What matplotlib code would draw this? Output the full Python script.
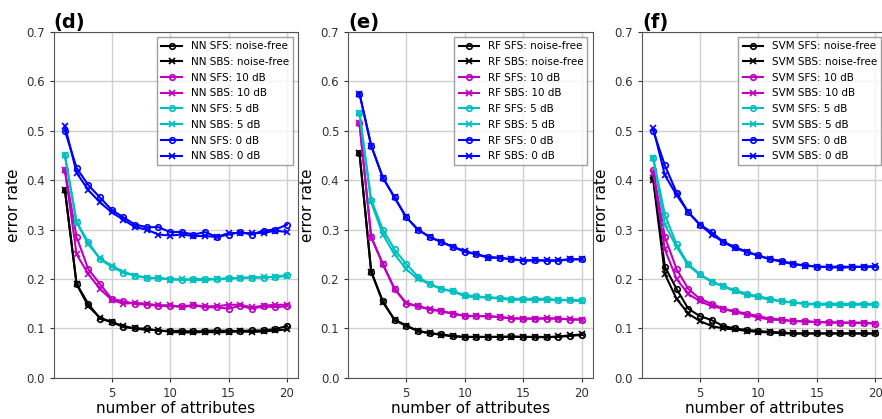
import numpy as np
import matplotlib.pyplot as plt

# number of attributes
n_attr = list(range(1, 21))

# (d) NN
nn_sfs_clean = [0.38, 0.19, 0.15, 0.12, 0.113, 0.103, 0.10, 0.10, 0.095, 0.095, 0.095, 0.094, 0.095, 0.096, 0.095, 0.095, 0.096, 0.096, 0.099, 0.105]
nn_sbs_clean = [0.38, 0.19, 0.145, 0.122, 0.113, 0.105, 0.10, 0.097, 0.097, 0.093, 0.092, 0.092, 0.093, 0.092, 0.093, 0.094, 0.093, 0.094, 0.096, 0.098]
nn_sfs_10 = [0.42, 0.285, 0.22, 0.19, 0.16, 0.155, 0.15, 0.148, 0.146, 0.145, 0.145, 0.147, 0.143, 0.143, 0.14, 0.146, 0.14, 0.145, 0.143, 0.145]
nn_sbs_10 = [0.42, 0.25, 0.21, 0.18, 0.158, 0.15, 0.152, 0.15, 0.147, 0.147, 0.143, 0.147, 0.145, 0.145, 0.148, 0.148, 0.143, 0.146, 0.148, 0.148]
nn_sfs_5 = [0.45, 0.315, 0.275, 0.24, 0.225, 0.213, 0.207, 0.203, 0.202, 0.20, 0.198, 0.20, 0.20, 0.20, 0.202, 0.202, 0.203, 0.203, 0.205, 0.208]
nn_sbs_5 = [0.45, 0.315, 0.27, 0.242, 0.227, 0.215, 0.207, 0.202, 0.202, 0.199, 0.20, 0.198, 0.198, 0.20, 0.20, 0.203, 0.203, 0.204, 0.204, 0.206]
nn_sfs_0 = [0.50, 0.425, 0.39, 0.365, 0.34, 0.325, 0.31, 0.305, 0.305, 0.295, 0.295, 0.29, 0.295, 0.285, 0.29, 0.295, 0.29, 0.298, 0.30, 0.31]
nn_sbs_0 = [0.51, 0.415, 0.38, 0.355, 0.335, 0.32, 0.305, 0.30, 0.29, 0.288, 0.29, 0.287, 0.287, 0.285, 0.293, 0.293, 0.293, 0.293, 0.298, 0.295]

# (e) RF
rf_sfs_clean = [0.455, 0.215, 0.155, 0.117, 0.105, 0.095, 0.09, 0.088, 0.085, 0.083, 0.083, 0.083, 0.083, 0.084, 0.083, 0.083, 0.083, 0.083, 0.085, 0.087]
rf_sbs_clean = [0.455, 0.215, 0.153, 0.118, 0.106, 0.095, 0.091, 0.087, 0.084, 0.083, 0.083, 0.083, 0.083, 0.083, 0.083, 0.083, 0.082, 0.084, 0.086, 0.088]
rf_sfs_10 = [0.515, 0.285, 0.23, 0.18, 0.15, 0.145, 0.138, 0.135, 0.13, 0.125, 0.125, 0.125, 0.123, 0.12, 0.12, 0.12, 0.12, 0.12, 0.118, 0.118]
rf_sbs_10 = [0.515, 0.285, 0.23, 0.18, 0.152, 0.145, 0.14, 0.135, 0.13, 0.126, 0.125, 0.125, 0.123, 0.121, 0.12, 0.12, 0.121, 0.12, 0.119, 0.118]
rf_sfs_5 = [0.535, 0.36, 0.30, 0.26, 0.23, 0.205, 0.19, 0.18, 0.175, 0.168, 0.165, 0.163, 0.162, 0.16, 0.16, 0.16, 0.16, 0.158, 0.158, 0.157]
rf_sbs_5 = [0.535, 0.355, 0.29, 0.25, 0.22, 0.20, 0.19, 0.18, 0.175, 0.165, 0.163, 0.163, 0.16, 0.158, 0.158, 0.158, 0.158, 0.157, 0.157, 0.155]
rf_sfs_0 = [0.575, 0.47, 0.405, 0.365, 0.325, 0.30, 0.285, 0.275, 0.265, 0.255, 0.25, 0.245, 0.243, 0.24, 0.237, 0.238, 0.237, 0.237, 0.24, 0.24]
rf_sbs_0 = [0.575, 0.47, 0.405, 0.365, 0.325, 0.30, 0.285, 0.275, 0.265, 0.257, 0.25, 0.243, 0.243, 0.24, 0.238, 0.238, 0.238, 0.238, 0.24, 0.24]

# (f) SVM
svm_sfs_clean = [0.405, 0.225, 0.18, 0.14, 0.125, 0.117, 0.105, 0.10, 0.097, 0.095, 0.093, 0.092, 0.09, 0.09, 0.09, 0.09, 0.09, 0.09, 0.09, 0.09]
svm_sbs_clean = [0.40, 0.21, 0.16, 0.13, 0.115, 0.105, 0.10, 0.098, 0.095, 0.093, 0.092, 0.09, 0.09, 0.09, 0.09, 0.09, 0.09, 0.09, 0.09, 0.09]
svm_sfs_10 = [0.42, 0.285, 0.22, 0.18, 0.16, 0.15, 0.14, 0.135, 0.13, 0.125, 0.12, 0.118, 0.115, 0.115, 0.113, 0.113, 0.112, 0.112, 0.112, 0.11]
svm_sbs_10 = [0.415, 0.26, 0.20, 0.17, 0.155, 0.145, 0.14, 0.133, 0.128, 0.122, 0.118, 0.117, 0.115, 0.114, 0.113, 0.112, 0.112, 0.111, 0.111, 0.11]
svm_sfs_5 = [0.445, 0.33, 0.27, 0.23, 0.21, 0.195, 0.185, 0.178, 0.17, 0.165, 0.16, 0.155, 0.153, 0.15, 0.15, 0.15, 0.15, 0.15, 0.15, 0.15]
svm_sbs_5 = [0.445, 0.31, 0.265, 0.228, 0.208, 0.195, 0.185, 0.175, 0.168, 0.163, 0.158, 0.155, 0.152, 0.15, 0.148, 0.148, 0.147, 0.148, 0.148, 0.148]
svm_sfs_0 = [0.50, 0.43, 0.375, 0.335, 0.31, 0.295, 0.275, 0.265, 0.255, 0.248, 0.24, 0.237, 0.23, 0.228, 0.225, 0.225, 0.225, 0.225, 0.225, 0.225]
svm_sbs_0 = [0.505, 0.41, 0.37, 0.335, 0.31, 0.29, 0.275, 0.262, 0.255, 0.247, 0.24, 0.235, 0.23, 0.227, 0.225, 0.224, 0.223, 0.224, 0.225, 0.226]

conditions = ["noise-free", "10 dB", "5 dB", "0 dB"]
colors = ["k", "m", "c", "b"]

panels = [
    ("(d)", "NN", [(nn_sfs_clean, nn_sbs_clean), (nn_sfs_10, nn_sbs_10), (nn_sfs_5, nn_sbs_5), (nn_sfs_0, nn_sbs_0)]),
    ("(e)", "RF", [(rf_sfs_clean, rf_sbs_clean), (rf_sfs_10, rf_sbs_10), (rf_sfs_5, rf_sbs_5), (rf_sfs_0, rf_sbs_0)]),
    ("(f)", "SVM", [(svm_sfs_clean, svm_sbs_clean), (svm_sfs_10, svm_sbs_10), (svm_sfs_5, svm_sbs_5), (svm_sfs_0, svm_sbs_0)]),
]

fig = plt.figure(figsize=(8.82, 4.19), dpi=100)
lefts = [0.061, 0.395, 0.728]
w = 0.277

for left, (tag, model, series) in zip(lefts, panels):
    ax = fig.add_axes([left, 0.098, w, 0.826])
    for (sfs, sbs), cond, col in zip(series, conditions, colors):
        ax.plot(n_attr, sfs, color=col, marker="o", mfc="none", ms=4, mew=1.2, lw=1.5,
                label=f"{model} SFS: {cond}")
        ax.plot(n_attr, sbs, color=col, marker="x", ms=4, mew=1.2, lw=1.5,
                label=f"{model} SBS: {cond}")
    ax.set_ylim(0, 0.7)
    ax.set_yticks(np.arange(0, 0.71, 0.1))
    ax.set_xticks([5, 10, 15, 20])
    ax.grid(True, color="#d0d0d0", lw=1)
    ax.tick_params(labelsize=8.5, colors="#333333", length=3)
    for s in ax.spines.values():
        s.set_color("#555555")
    ax.set_xlabel("number of attributes", fontsize=11, labelpad=1)
    ax.set_ylabel("error rate", fontsize=11)
    ax.set_title(tag, loc="left", fontsize=14, fontweight="bold", pad=2)
    ax.legend(loc="upper right", fontsize=7.5, handlelength=2, labelspacing=0.55,
              borderpad=0.4, fancybox=False, edgecolor="#888888")

fig.savefig("out.png", dpi=100)
